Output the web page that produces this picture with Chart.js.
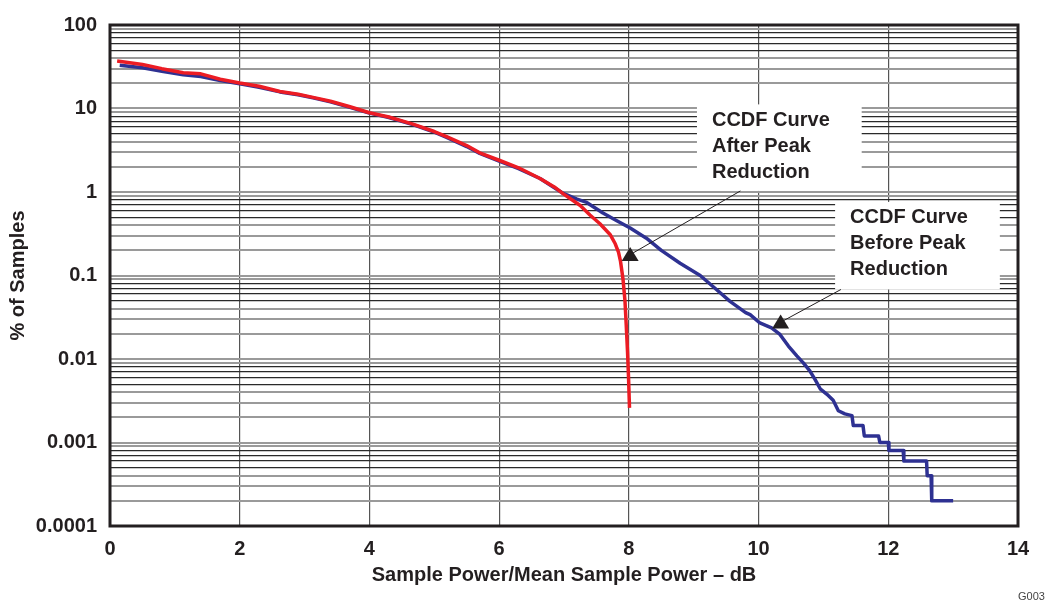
<!DOCTYPE html>
<html><head><meta charset="utf-8">
<script src="https://cdn.jsdelivr.net/npm/chart.js@4.4.1/dist/chart.umd.min.js"></script>
<style>html,body{margin:0;padding:0;background:#fff;}#wrap{width:1051px;height:601px;position:relative}</style>
</head><body><div id="wrap"><canvas id="c" width="1051" height="601"></canvas></div>
<script>
// CCDF before peak reduction (blue)
const beforeX = [0.15,0.5,0.8,1.13,1.4,1.7,2.0,2.3,2.62,2.9,3.13,3.4,3.7,4.0,4.3,4.67,5.0,5.19,5.5,5.7,6.0,6.3,6.63,6.99,7.2,7.35,7.6,7.8,8.02,8.27,8.5,8.79,9.1,9.35,9.56,9.8,9.87,10.02,10.2,10.33,10.46,10.59,10.69,10.79,10.87,10.95,11.05,11.15,11.23,11.33,11.44,11.46,11.61,11.63,11.85,11.87,12.0,12.01,12.23,12.24,12.59,12.6,12.66,12.67,13.0];
const beforeY = [33,30.8,28,25.3,24.2,21.6,19.8,18,15.8,14.6,13.4,12,10.3,8.8,7.8,6.4,5.2,4.5,3.5,2.9,2.35,1.9,1.45,0.96,0.82,0.75,0.56,0.46,0.37,0.28,0.2,0.14,0.1,0.068,0.049,0.036,0.034,0.027,0.0236,0.0197,0.0143,0.0109,0.009,0.0072,0.0057,0.0044,0.0038,0.0032,0.0024,0.0022,0.0021,0.0016,0.0016,0.0012,0.0012,0.001,0.001,0.0008,0.0008,0.0006,0.0006,0.0004,0.0004,0.0002,0.0002];
// CCDF after peak reduction (red)
const afterX = [0.11,0.5,0.8,1.13,1.4,1.7,2.0,2.3,2.62,2.9,3.13,3.4,3.7,4.0,4.3,4.67,5.0,5.19,5.5,5.7,6.0,6.3,6.63,6.85,6.99,7.15,7.25,7.4,7.55,7.71,7.79,7.84,7.87,7.91,7.94,7.96,7.98,7.995,8.01];
const afterY = [37,33.7,30,26.8,26,22.4,20.2,18.5,16,14.8,13.6,12.2,10.5,8.9,7.9,6.5,5.3,4.6,3.6,2.95,2.4,1.95,1.45,1.15,0.95,0.78,0.69,0.53,0.42,0.31,0.24,0.19,0.15,0.09,0.05,0.025,0.012,0.006,0.0026];

const xTickValues = [0,2,4,6,8,10,12,14];
const yDecades = [0.0001,0.001,0.01,0.1,1,10,100];
const yTickLabels = ['0.0001','0.001','0.01','0.1','1','10','100'];
const xTitle = 'Sample Power/Mean Sample Power – dB';
const yTitle = '% of Samples';
const annotLines = [['CCDF Curve','After Peak','Reduction'],['CCDF Curve','Before Peak','Reduction']];
// box corners (data units: x0, yTop, x1, yBottom), triangle tip, arrow start
const annotBoxes = [[9.05,11.2,11.59,1.03],[11.18,0.76,13.72,0.068]];
const annotTips = [[8.02,0.22],[10.34,0.034]];
const annotFrom = [[9.72,1.03],[11.27,0.068]];

const FONT = '"Liberation Sans", Arial, sans-serif';
const INK = '#231f20';

function mant(v){ const e = Math.floor(Math.log10(v)+1e-9); return Math.round(v/Math.pow(10,e)); }

const annotPlugin = {
  id:'annot',
  beforeDatasetsDraw(chart){
    const {ctx, scales:{x,y}} = chart;
    ctx.save();
    annotBoxes.forEach((b,i)=>{
      const l=x.getPixelForValue(b[0]), t=y.getPixelForValue(b[1]);
      const r=x.getPixelForValue(b[2]), bt=y.getPixelForValue(b[3]);
      ctx.fillStyle='#fff'; ctx.fillRect(l,t,r-l,bt-t);
      ctx.fillStyle=INK; ctx.font='bold 20px '+FONT; ctx.textBaseline='middle'; ctx.textAlign='left';
      annotLines[i].forEach((s,k)=>ctx.fillText(s,l+15,t+16+k*26));
    });
    ctx.restore();
  },
  afterDatasetsDraw(chart){
    const {ctx, chartArea:a, scales:{x,y}} = chart;
    ctx.save();
    annotTips.forEach((tp,i)=>{
      const tx=x.getPixelForValue(tp[0]), ty=y.getPixelForValue(tp[1]);
      const fx=x.getPixelForValue(annotFrom[i][0]), fy=y.getPixelForValue(annotFrom[i][1]);
      ctx.strokeStyle=INK; ctx.lineWidth=1;
      ctx.beginPath(); ctx.moveTo(fx,fy); ctx.lineTo(tx+3,ty+6); ctx.stroke();
      ctx.fillStyle=INK;
      ctx.beginPath(); ctx.moveTo(tx,ty); ctx.lineTo(tx+8.5,ty+14); ctx.lineTo(tx-8.5,ty+14); ctx.closePath(); ctx.fill();
    });
    ctx.strokeStyle=INK; ctx.lineWidth=3;
    ctx.strokeRect(a.left,a.top,a.right-a.left,a.bottom-a.top);
    ctx.fillStyle='#444'; ctx.font='11px '+FONT; ctx.textBaseline='top'; ctx.textAlign='left';
    ctx.fillText('G003',1018,591);
    ctx.restore();
  }
};

new Chart(document.getElementById('c'),{
  type:'line',
  data:{datasets:[
    {label:'After',data:afterX.map((v,i)=>({x:v,y:afterY[i]})),borderColor:'#ec1c24',borderWidth:3.5,pointRadius:0,tension:0,borderJoinStyle:'round',fill:false},
    {label:'Before',data:beforeX.map((v,i)=>({x:v,y:beforeY[i]})),borderColor:'#2e3192',borderWidth:3.5,pointRadius:0,tension:0,borderJoinStyle:'round',fill:false}
  ]},
  options:{
    responsive:false, animation:false,
    layout:{padding:{top:22,right:33,left:0,bottom:0}},
    plugins:{legend:{display:false},tooltip:{enabled:false}},
    scales:{
      x:{type:'linear',min:0,max:14,
        afterBuildTicks:s=>{s.ticks=xTickValues.map(v=>({value:v}));},
        afterFit:s=>{s.height=75;},
        border:{display:false},
        grid:{color:'#555',lineWidth:1.2,drawTicks:false},
        ticks:{padding:11,color:INK,font:{family:FONT,size:20,weight:'bold'},maxRotation:0,autoSkip:false},
        title:{display:true,text:xTitle,color:INK,font:{family:FONT,size:20,weight:'bold'},padding:{top:0,bottom:14}}
      },
      y:{type:'logarithmic',min:0.0001,max:100,
        afterBuildTicks:s=>{const t=[];yDecades.forEach((d,i)=>{if(i<yDecades.length-1){for(let m=1;m<10;m++)t.push({value:d*m});}else t.push({value:d});});s.ticks=t;},
        afterFit:s=>{s.width=110;},
        border:{display:false},
        grid:{drawTicks:false,
          color:c=>{const m=mant(c.tick.value);return (m>=5&&m<=8)?'#2a2a2a':'#9a9a9a';},
          lineWidth:c=>{const m=mant(c.tick.value);return (m>=5&&m<=8)?1.2:2;}},
        ticks:{padding:13,color:INK,autoSkip:false,font:{family:FONT,size:20,weight:'bold'},
          callback:v=>{const i=yDecades.findIndex(d=>Math.abs(d-v)/d<1e-6);return i>=0?yTickLabels[i]:'';}},
        title:{display:true,text:yTitle,color:INK,font:{family:FONT,size:20,weight:'bold'},padding:{top:6,bottom:0}}
      }
    }
  },
  plugins:[annotPlugin]
});
</script></body></html>
